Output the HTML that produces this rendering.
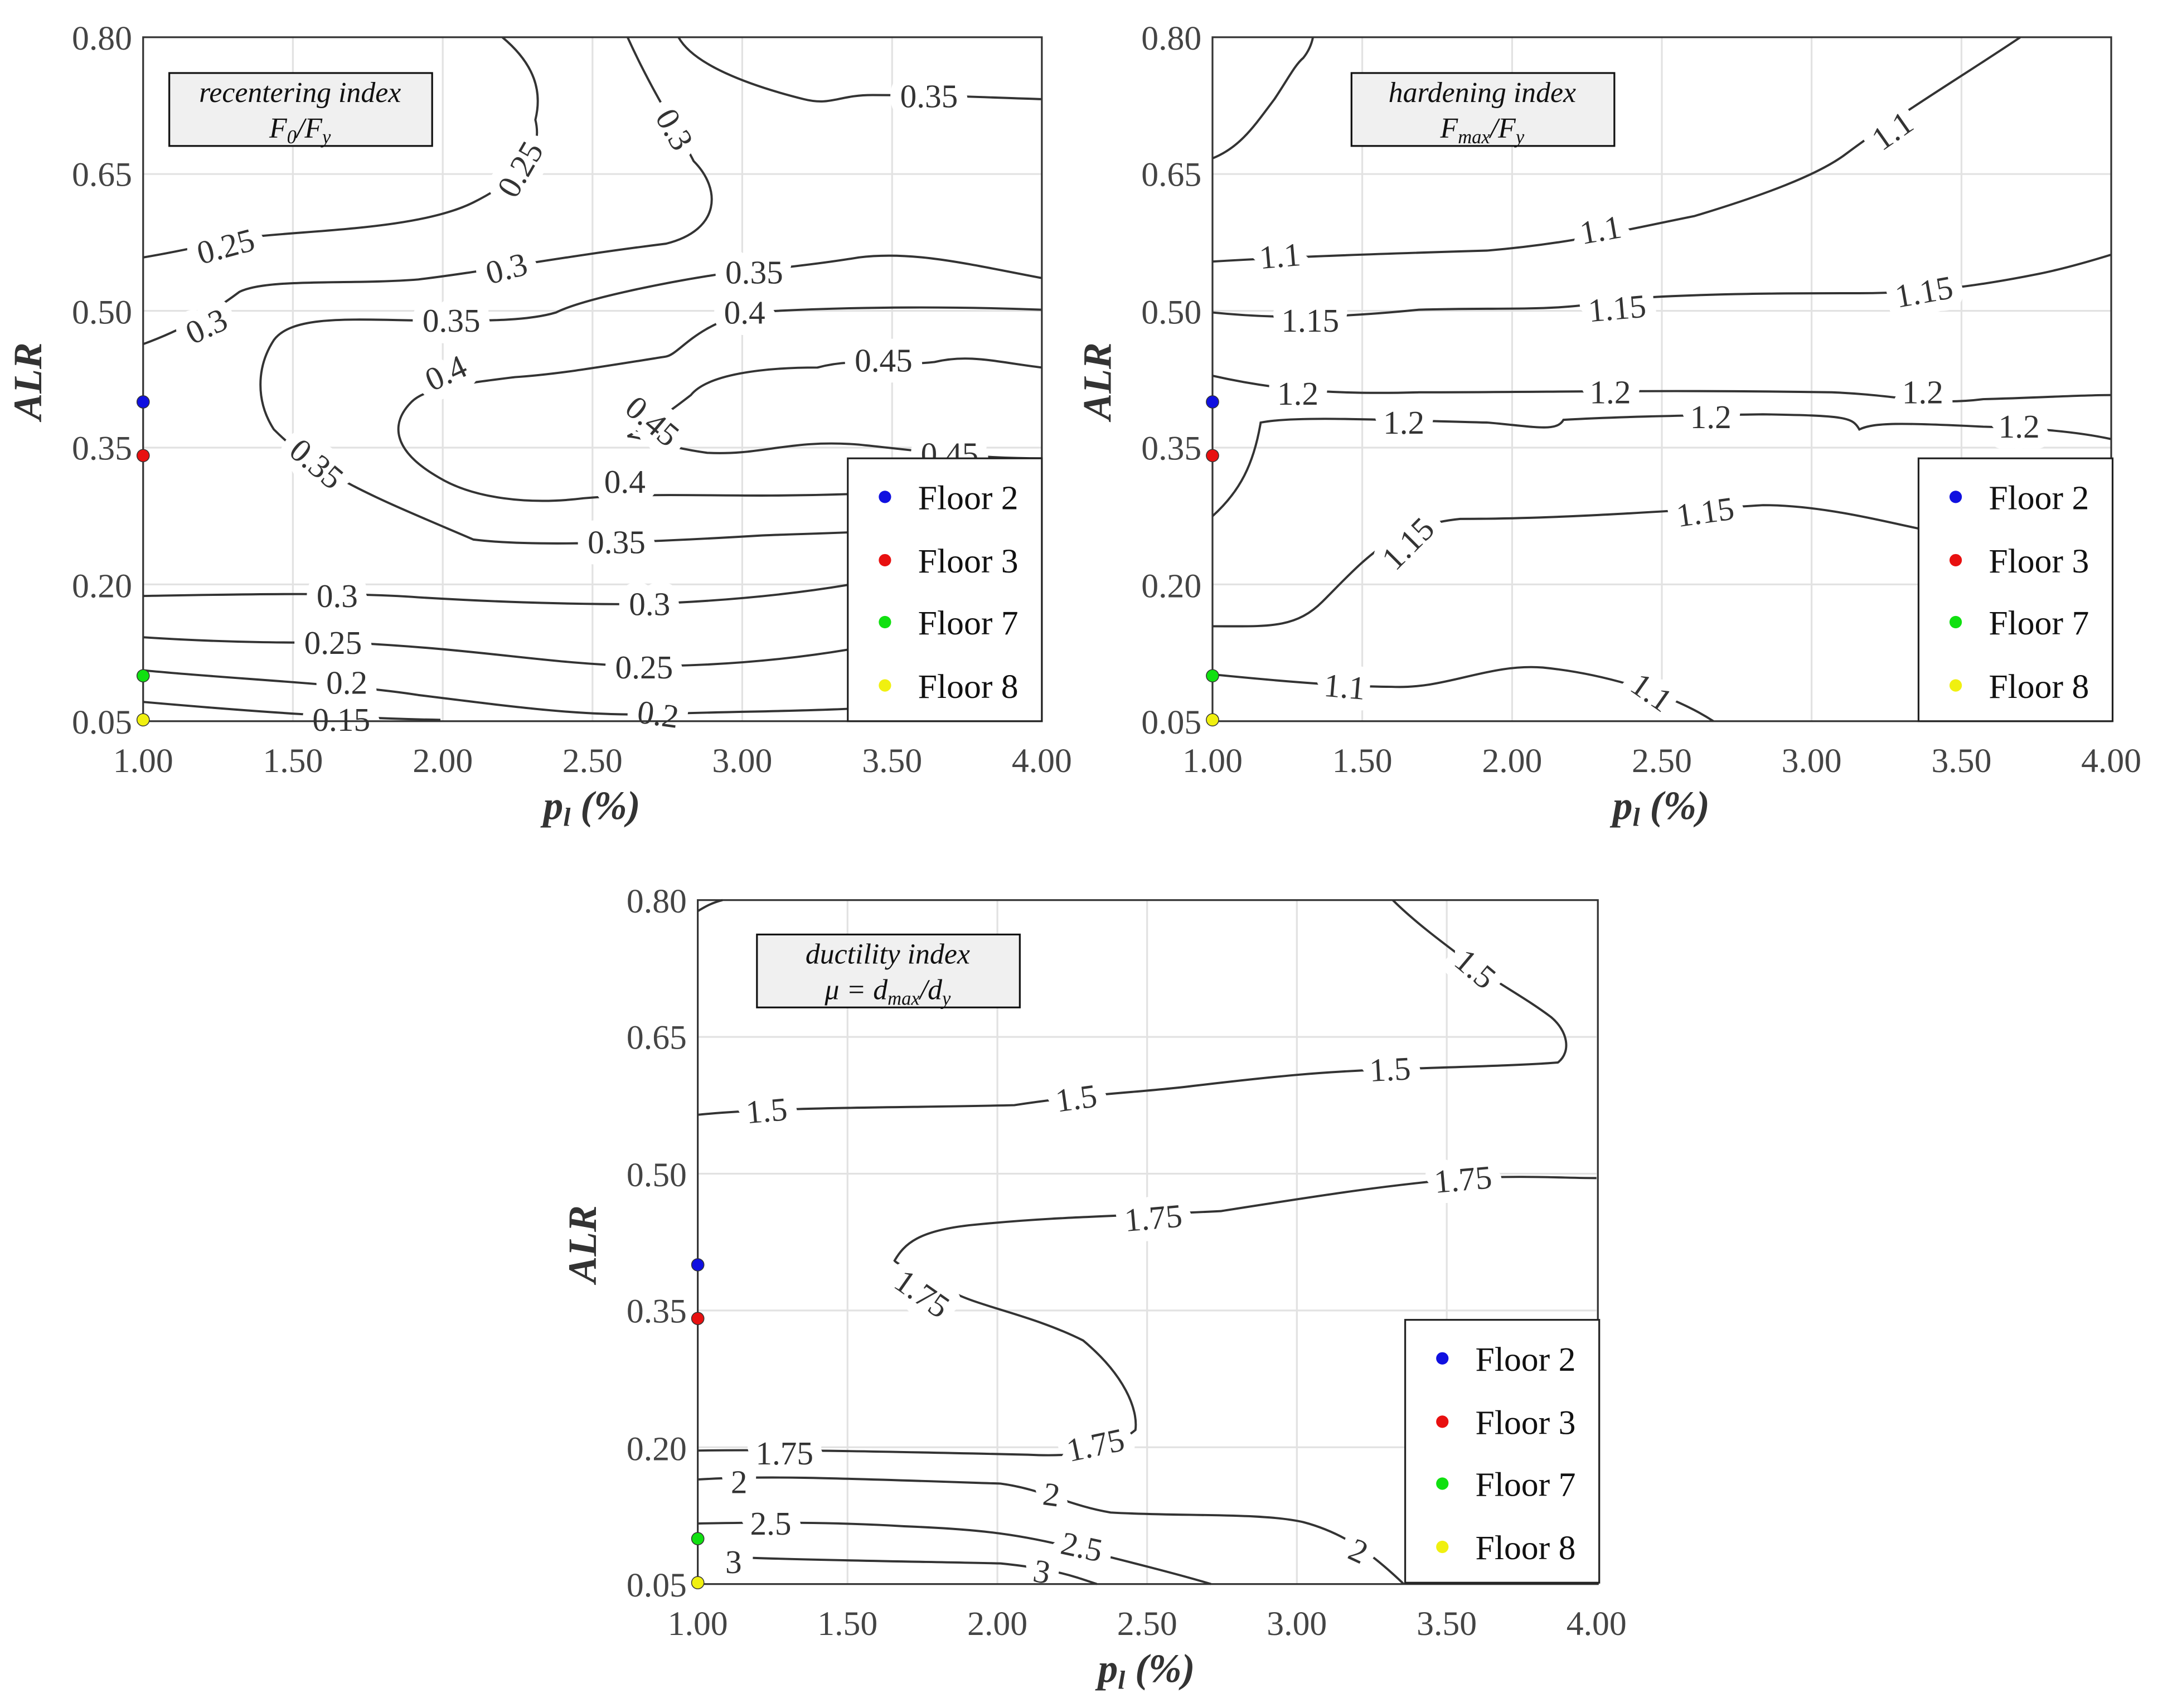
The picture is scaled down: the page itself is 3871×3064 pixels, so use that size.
<!DOCTYPE html>
<html><head><meta charset="utf-8"><style>
html,body{margin:0;padding:0;background:#fff}
svg{display:block}
.t{font-family:"Liberation Serif",serif;font-size:25px;fill:#444}
.c text{font-family:"Liberation Serif",serif;font-size:24px;fill:#333;stroke:#fff;stroke-width:16px;paint-order:stroke;stroke-linejoin:round}
.ln{fill:none;stroke:#333;stroke-width:1.6}
.g{stroke:#e2e2e2;stroke-width:1.3}
.lg{font-family:"Liberation Serif",serif;font-size:25px;fill:#111}
.ti{font-family:"Liberation Serif",serif;font-style:italic;font-size:21px;fill:#111}
.ax{font-family:"Liberation Serif",serif;font-style:italic;font-weight:bold;font-size:29px;fill:#333}
</style></head><body>
<svg width="3871" height="3064" viewBox="0 0 1568 1241" xmlns="http://www.w3.org/2000/svg">
<defs>
<g id="grid">
<line class="g" x1="108.8" y1="0" x2="108.8" y2="497"/><line class="g" x1="217.7" y1="0" x2="217.7" y2="497"/><line class="g" x1="326.5" y1="0" x2="326.5" y2="497"/><line class="g" x1="435.3" y1="0" x2="435.3" y2="497"/><line class="g" x1="544.2" y1="0" x2="544.2" y2="497"/>
<line class="g" x1="0" y1="99.4" x2="653" y2="99.4"/><line class="g" x1="0" y1="198.8" x2="653" y2="198.8"/><line class="g" x1="0" y1="298.2" x2="653" y2="298.2"/><line class="g" x1="0" y1="397.6" x2="653" y2="397.6"/>
<g text-anchor="end" class="t"><text x="-8" y="9">0.80</text><text x="-8" y="108">0.65</text><text x="-8" y="208">0.50</text><text x="-8" y="307">0.35</text><text x="-8" y="407">0.20</text><text x="-8" y="506">0.05</text></g>
<g text-anchor="middle" class="t"><text x="0" y="534">1.00</text><text x="108.8" y="534">1.50</text><text x="217.7" y="534">2.00</text><text x="326.5" y="534">2.50</text><text x="435.3" y="534">3.00</text><text x="544.2" y="534">3.50</text><text x="653" y="534">4.00</text></g>
<text class="ax" x="326" y="568" text-anchor="middle">p<tspan font-size="19" dy="5">l</tspan><tspan dy="-5"> (%)</tspan></text>
<text class="ax" transform="translate(-74,250) rotate(-90)" text-anchor="middle">ALR</text>
</g>
<g id="dots">
<circle cx="0" cy="265" r="4.5" fill="#1010e0" stroke="#333" stroke-width=".6"/>
<circle cx="0" cy="304" r="4.5" fill="#e81010" stroke="#333" stroke-width=".6"/>
<circle cx="0" cy="464" r="4.5" fill="#10e010" stroke="#333" stroke-width=".6"/>
<circle cx="0" cy="496" r="4.5" fill="#f0f010" stroke="#333" stroke-width=".6"/>
</g>
<g id="leg">
<rect x="0" y="0" width="141" height="191" fill="#fff" stroke="#222" stroke-width="1.3"/>
<circle cx="27" cy="28" r="4.5" fill="#1010e0"/><text class="lg" x="51" y="37">Floor 2</text>
<circle cx="27" cy="74" r="4.5" fill="#e81010"/><text class="lg" x="51" y="83">Floor 3</text>
<circle cx="27" cy="119" r="4.5" fill="#10e010"/><text class="lg" x="51" y="128">Floor 7</text>
<circle cx="27" cy="165" r="4.5" fill="#f0f010"/><text class="lg" x="51" y="174">Floor 8</text>
</g>
</defs>

<!-- Plot 1 -->
<g transform="translate(104,27)">
<use href="#grid"/>
<g class="ln">
<path d="M0,483 C80,490 150,495 216,496"/>
<path d="M0,460 C60,466 150,470 200,478 C280,488 320,493 370,492 C420,490 470,490 512,488"/>
<path d="M0,436 C60,440 110,440 150,440 C250,445 290,455 360,457 C420,457 470,452 512,445"/>
<path d="M0,406 C60,405 150,403 200,407 C250,410 300,412 360,412 C420,410 470,405 512,398"/>
<path d="M0,223 C30,212 50,200 70,185 C90,175 150,180 200,176 C250,170 300,160 380,150 C420,140 420,110 400,90 C390,70 370,40 352,0"/>
<path d="M0,160 C30,155 50,150 70,146 C120,140 200,140 240,120 C280,100 290,80 285,60 C290,40 285,20 261,0"/>
<path d="M389,0 C400,20 440,35 480,45 C500,50 505,42 530,42 C580,42 620,44 653,45"/>
<path d="M653,175 C600,165 560,155 520,160 C490,165 460,168 420,172 C380,178 320,190 300,200 C280,206 250,206 220,206 C160,206 110,200 95,220 C82,240 82,265 95,285 C130,320 170,335 240,365 C280,370 350,368 450,362 C500,360 550,360 653,350"/>
<path d="M653,198 C600,196 520,195 440,200 C400,210 390,230 380,232 C330,240 300,245 270,247 C230,252 205,255 195,265 C180,280 180,300 215,320 C240,335 280,340 320,335 C380,330 420,335 512,332"/>
<path d="M653,240 C620,236 600,230 575,236 C540,240 520,232 490,240 C450,240 410,245 398,260 C385,270 375,278 352,290 C360,290 380,298 410,302 C450,304 470,292 520,296 C560,300 600,306 653,306"/>
</g>
<g class="c" text-anchor="middle">
<text x="144" y="504">0.15</text>
<text x="148" y="477">0.2</text>
<text x="138" y="448">0.25</text>
<text x="141" y="414">0.3</text>
<text x="364" y="466">0.25</text>
<text x="368" y="420">0.3</text>
<text x="374" y="500" transform="rotate(8 374 493)">0.2</text>
<text x="60" y="160" transform="rotate(-15 60 152)">0.25</text>
<text x="46" y="218" transform="rotate(-25 46 210)">0.3</text>
<text x="264" y="176" transform="rotate(-15 264 168)">0.3</text>
<text x="274" y="104" transform="rotate(-60 274 96)">0.25</text>
<text x="386" y="75" transform="rotate(60 386 67)">0.3</text>
<text x="571" y="51">0.35</text>
<text x="224" y="214">0.35</text>
<text x="444" y="179">0.35</text>
<text x="437" y="208">0.4</text>
<text x="220" y="252" transform="rotate(-25 220 244)">0.4</text>
<text x="126" y="318" transform="rotate(40 126 310)">0.35</text>
<text x="350" y="331">0.4</text>
<text x="344" y="375">0.35</text>
<text x="538" y="243">0.45</text>
<text x="370" y="287" transform="rotate(40 370 279)">0.45</text>
<text x="586" y="311">0.45</text>
</g>
<rect x="19" y="26" width="191" height="53" fill="#f0f0f0" stroke="#111" stroke-width="1.3"/>
<text class="ti" x="114" y="47" text-anchor="middle">recentering index</text>
<text class="ti" x="114" y="73" text-anchor="middle">F<tspan font-size="14" dy="4">0</tspan><tspan dy="-4">/F</tspan><tspan font-size="14" dy="4">y</tspan></text>
<rect x="0" y="0" width="653" height="497" fill="none" stroke="#333" stroke-width="1.3"/>
<use href="#dots"/>
<use href="#leg" x="512" y="306"/>
</g>

<!-- Plot 2 -->
<g transform="translate(881,27)">
<use href="#grid"/>
<g class="ln">
<path d="M0,463 C50,468 100,472 130,472 C170,474 200,455 240,458 C280,462 330,475 364,497"/>
<path d="M0,428 C40,428 60,430 80,410 C110,380 130,355 180,350 C250,350 320,345 400,340 C440,340 480,350 513,357"/>
<path d="M0,348 C20,330 30,310 35,280 C60,275 120,278 200,280 C235,283 250,287 255,278 C290,276 330,275 400,274 C460,275 465,276 470,285 C480,280 500,280 560,283 C600,284 630,287 653,292"/>
<path d="M0,246 C40,255 80,260 150,258 C250,258 320,256 450,258 C500,260 520,268 560,263 C600,262 630,260 653,260"/>
<path d="M0,200 C40,204 80,205 150,198 C220,196 250,200 300,190 C360,186 420,186 470,186 C520,186 560,180 600,172 C620,168 640,162 653,158"/>
<path d="M0,163 C50,160 100,158 200,155 C260,150 300,140 350,130 C400,115 440,100 460,85 C500,55 550,25 587,0"/>
<path d="M0,88 C20,80 30,65 45,45 C55,30 60,20 66,15 C70,10 72,5 73,0"/>
</g>
<g class="c" text-anchor="middle">
<text x="96" y="480" transform="rotate(5 96 472)">1.1</text>
<text x="319" y="484" transform="rotate(35 319 476)">1.1</text>
<text x="142" y="376" transform="rotate(-45 142 368)">1.15</text>
<text x="358" y="353" transform="rotate(-8 358 345)">1.15</text>
<text x="139" y="288">1.2</text>
<text x="362" y="284">1.2</text>
<text x="586" y="291">1.2</text>
<text x="62" y="267">1.2</text>
<text x="289" y="266">1.2</text>
<text x="516" y="266">1.2</text>
<text x="71" y="214">1.15</text>
<text x="294" y="205" transform="rotate(-5 294 197)">1.15</text>
<text x="517" y="193" transform="rotate(-10 517 185)">1.15</text>
<text x="49" y="167" transform="rotate(-5 49 159)">1.1</text>
<text x="282" y="148" transform="rotate(-10 282 140)">1.1</text>
<text x="494" y="76" transform="rotate(-35 494 68)">1.1</text>
</g>
<rect x="101" y="26" width="191" height="53" fill="#f0f0f0" stroke="#111" stroke-width="1.3"/>
<text class="ti" x="196" y="47" text-anchor="middle">hardening index</text>
<text class="ti" x="196" y="73" text-anchor="middle">F<tspan font-size="14" dy="4">max</tspan><tspan dy="-4">/F</tspan><tspan font-size="14" dy="4">y</tspan></text>
<rect x="0" y="0" width="653" height="497" fill="none" stroke="#333" stroke-width="1.3"/>
<use href="#dots"/>
<use href="#leg" x="513" y="306"/>
</g>

<!-- Plot 3 -->
<g transform="translate(507,654)">
<use href="#grid"/>
<g class="ln">
<path d="M40,478 C100,480 180,481 220,482 C260,486 275,492 290,497"/>
<path d="M0,453 C50,452 100,452 150,455 C200,457 230,460 270,470 C310,480 350,490 373,497"/>
<path d="M0,421 C50,418 100,420 220,424 C250,428 270,440 300,445 C350,448 410,445 440,452 C470,460 490,475 513,497"/>
<path d="M0,400 C60,399 150,401 240,403 C280,405 300,400 318,385 C320,370 310,345 280,320 C240,300 200,295 180,282 C160,270 145,265 143,262 C150,250 160,240 200,236 C260,230 300,230 380,226 C450,215 500,207 560,202 C600,200 630,202 653,202"/>
<path d="M0,156 C60,150 150,151 230,149 C290,140 320,140 360,135 C420,128 450,125 500,123 C560,121 600,120 625,118 C635,110 632,95 620,85 C600,70 580,60 560,45 C540,30 520,15 505,0"/>
<path d="M0,8 C5,5 10,2 18,0"/>
</g>
<g class="c" text-anchor="middle">
<text x="26" y="489">3</text>
<text x="250" y="496" transform="rotate(10 250 488)">3</text>
<text x="53" y="461">2.5</text>
<text x="279" y="478" transform="rotate(12 279 470)">2.5</text>
<text x="30" y="431">2</text>
<text x="257" y="440" transform="rotate(8 257 432)">2</text>
<text x="480" y="481" transform="rotate(25 480 473)">2</text>
<text x="63" y="410">1.75</text>
<text x="289" y="404" transform="rotate(-12 289 396)">1.75</text>
<text x="163" y="294" transform="rotate(35 163 286)">1.75</text>
<text x="331" y="239" transform="rotate(-5 331 231)">1.75</text>
<text x="556" y="211" transform="rotate(-5 556 203)">1.75</text>
<text x="50" y="161" transform="rotate(-5 50 153)">1.5</text>
<text x="275" y="152" transform="rotate(-8 275 144)">1.5</text>
<text x="503" y="131" transform="rotate(-3 503 123)">1.5</text>
<text x="565" y="58" transform="rotate(40 565 50)">1.5</text>
</g>
<rect x="43" y="25" width="191" height="53" fill="#f0f0f0" stroke="#111" stroke-width="1.3"/>
<text class="ti" x="138" y="46" text-anchor="middle">ductility index</text>
<text class="ti" x="138" y="72" text-anchor="middle">μ = d<tspan font-size="14" dy="4">max</tspan><tspan dy="-4">/d</tspan><tspan font-size="14" dy="4">y</tspan></text>
<rect x="0" y="0" width="654" height="497" fill="none" stroke="#333" stroke-width="1.3"/>
<use href="#dots"/>
<use href="#leg" x="514" y="305"/>
</g>
</svg>
</body></html>
